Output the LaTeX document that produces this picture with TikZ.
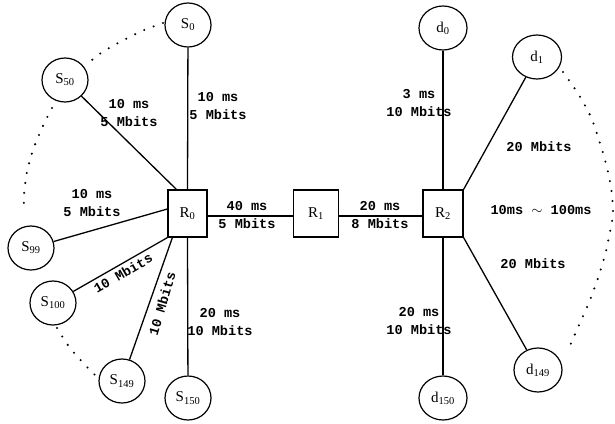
\documentclass[tikz,border=0pt]{standalone}
\usepackage{fontspec}
\setmainfont{Liberation Serif}
\newfontfamily\lblfont{Liberation Mono}
\usetikzlibrary{shapes.geometric}
\begin{document}
\begin{tikzpicture}[x=1pt,y=-1pt,
  host/.style={ellipse,draw,line width=1.2pt,minimum width=46pt,minimum height=44pt,inner sep=0pt,font=\fontsize{15}{15}\selectfont},
  router/.style={rectangle,draw,line width=1.3pt,minimum height=47pt,inner sep=0pt,font=\fontsize{15}{15}\selectfont},
  link/.style={line width=1.3pt},
  lbl/.style={font=\lblfont\bfseries\fontsize{13.6}{18}\selectfont,align=center,inner sep=0pt},
  dots/.style={line width=2.3pt,line cap=round,dash pattern=on 0pt off 10pt}
]
\useasboundingbox (0,0) rectangle (615,423);
% routers
\node[router,minimum width=39pt] (R0) at (187.5,213.5) {R\textsubscript{0}};
\node[router,minimum width=45pt] (R1) at (316,213.5) {R\textsubscript{1}};
\node[router,minimum width=40pt] (R2) at (443,213.5) {R\textsubscript{2}};
% sources
\node[host] (S0) at (188,25) {S\textsubscript{0}};
\node[host] (S50) at (65,80) {S\textsubscript{50}};
\node[host] (S99) at (31,248) {S\textsubscript{99}};
\node[host] (S100) at (53,303) {S\textsubscript{100}};
\node[host] (S149) at (122,381) {S\textsubscript{149}};
\node[host] (S150) at (188,398) {S\textsubscript{150}};
% destinations
\node[host,minimum width=48pt] (d0) at (443,28) {d\textsubscript{0}};
\node[host,minimum width=49pt] (d1) at (537,57) {d\textsubscript{1}};
\node[host,minimum width=48pt] (d149) at (538,370) {d\textsubscript{149}};
\node[host,minimum width=48pt] (d150) at (443,398) {d\textsubscript{150}};
% links
\draw[link] (S0) -- (R0.north);
\draw[link] (S50) -- ([xshift=9pt]R0.north west);
\draw[link] (S99) -- ([yshift=4.5pt]R0.west);
\draw[link] (S100) -- (R0.south west);
\draw[link] (S149) -- ([xshift=5pt]R0.south west);
\draw[link] (S150) -- (R0.south);
\draw[link] ([yshift=-2.5pt]R0.east) -- ([yshift=-2.5pt]R1.west);
\draw[link] ([yshift=-2.5pt]R1.east) -- ([yshift=-2.5pt]R2.west);
\draw[link] (d0) -- (R2.north);
\draw[link] (d1) -- (R2.north east);
\draw[link] (d149) -- (R2.south east);
\draw[link] (d150) -- (R2.south);
% dotted arcs
\draw[dots] plot[smooth] coordinates {(163,23) (142,31) (118,43) (98,55) (89,63)};
\draw[dots] plot[smooth] coordinates {(52,108) (42,128) (33,150) (27,172) (24,195) (24,210)};
\draw[dots] plot[smooth] coordinates {(57,328) (70,348) (87,367) (95,375)};
\draw[dots] plot[smooth] coordinates {(563,72) (577,92) (590,115) (598,137) (605,160) (611,187) (613,213) (610,232) (605,255) (598,278) (590,300) (580,323) (567,352)};
% labels
\node[lbl] (l1) at (218,106) {10 ms\\5 Mbits};
\node[lbl] (l2) at (129,113) {10 ms\\5 Mbits};
\node[lbl] (l3) at (92,203) {10 ms\\5 Mbits};
\node[lbl] (l4) at (247,215) {40 ms\\5 Mbits};
\node[lbl] (l5) at (380,215) {20 ms\\8 Mbits};
\node[lbl] (l6) at (419,103) {3 ms\\10 Mbits};
\node[lbl] (l7) at (539,147) {20 Mbits};
\node[lbl] (l8) at (541,210) {10ms $\sim$ 100ms};
\node[lbl] (l9) at (533,264) {20 Mbits};
\node[lbl] (l10) at (419,321) {20 ms\\10 Mbits};
\node[lbl] (l11) at (220,322) {20 ms\\10 Mbits};
\node[lbl,rotate=30] (l12) at (123,273) {10 Mbits};
\node[lbl,rotate=73.6] (l13) at (162,304) {10 Mbits};
\end{tikzpicture}
\end{document}
